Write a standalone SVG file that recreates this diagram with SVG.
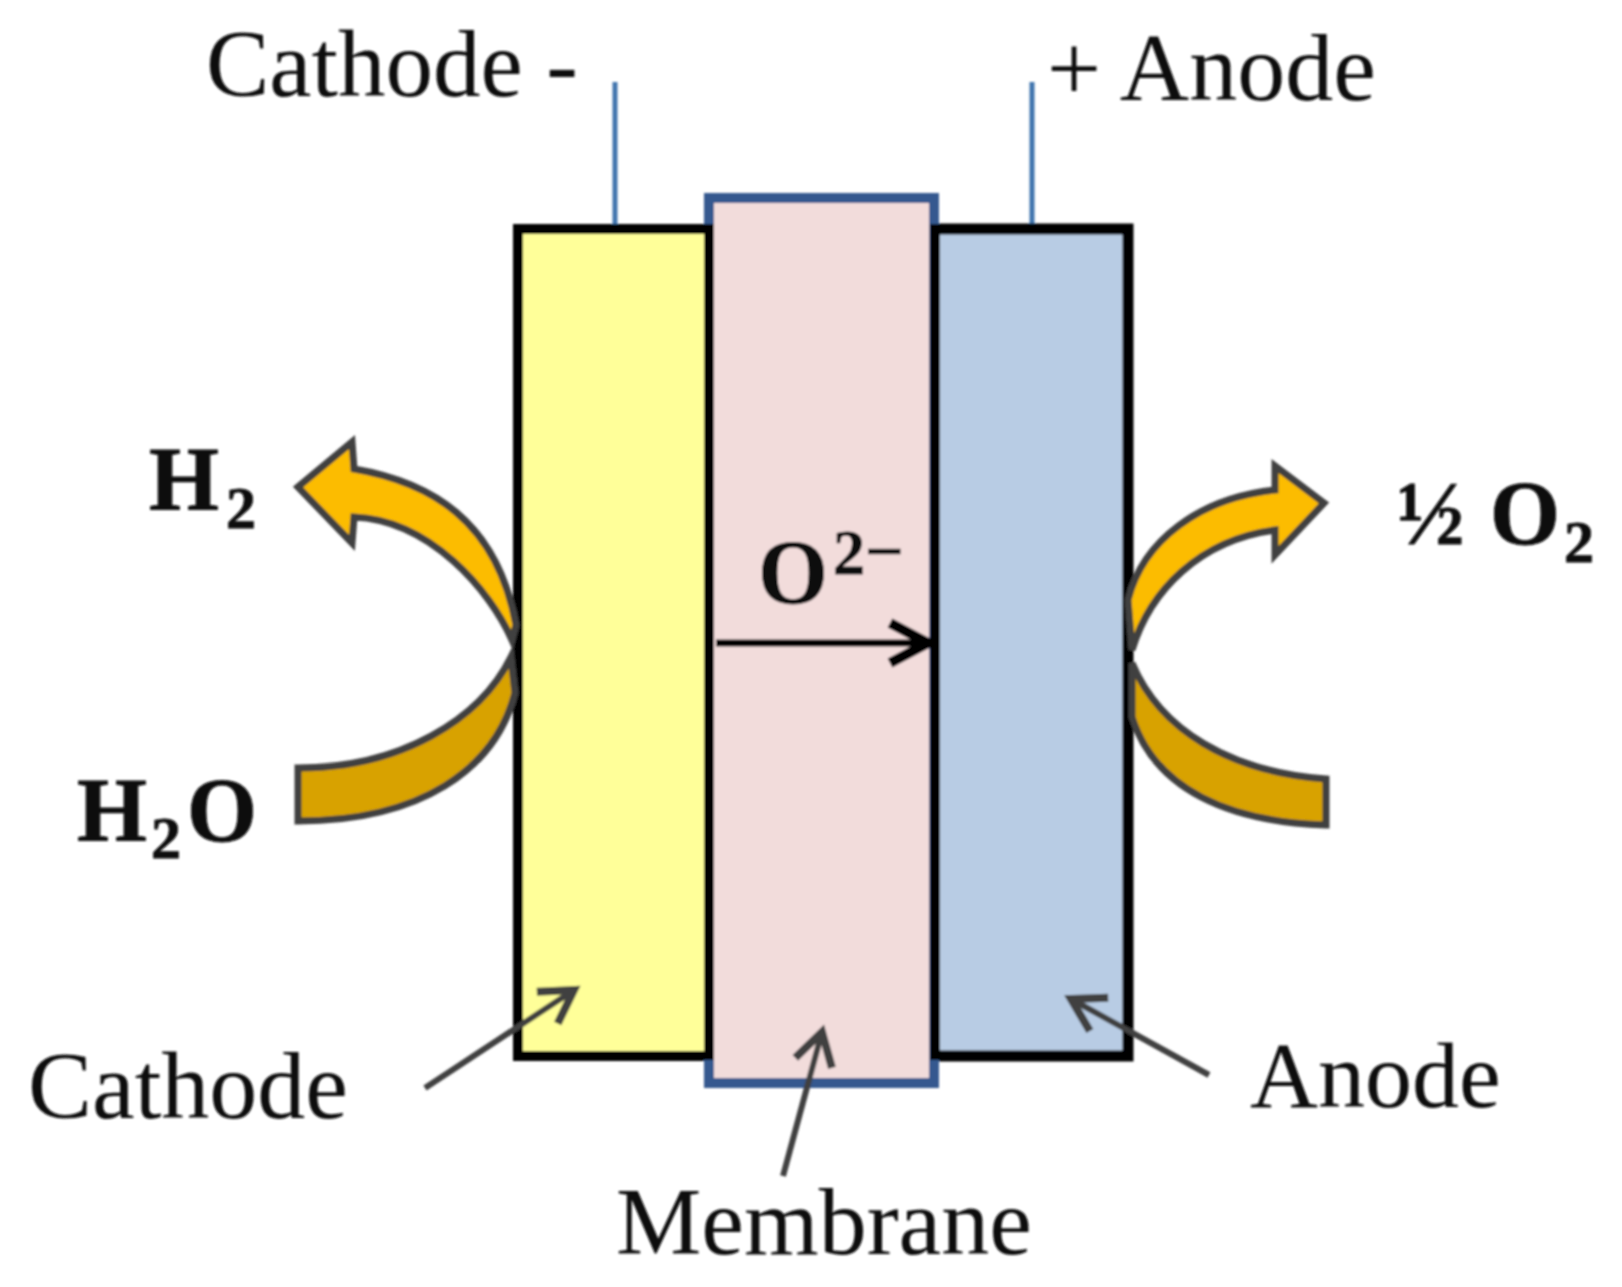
<svg xmlns="http://www.w3.org/2000/svg" width="1622" height="1287" viewBox="0 0 1622 1287">
<style>
.lbl{font-family:"Liberation Serif","Times New Roman",serif;font-size:96px;fill:#111}
.chem{font-family:"Liberation Serif","Times New Roman",serif;font-size:90px;font-weight:bold;fill:#0a0a0a;stroke:#0a0a0a;stroke-width:0.8}
.sub{font-size:60px}
.flow{stroke:#404040;stroke-width:7;stroke-linejoin:miter}
.up{fill:#fcbc05}
.down{fill:#d8a200}
.pointer{fill:none;stroke:#404040;stroke-width:6}
.wire{fill:none;stroke:#3f74ad;stroke-width:5}
</style>
<defs>
<marker id="open" markerUnits="userSpaceOnUse" markerWidth="50" markerHeight="60" refX="42" refY="30" orient="auto"><path d="M10,11 L42,30 L10,49" fill="none" stroke="#404040" stroke-width="8"/></marker>
<marker id="ion" markerUnits="userSpaceOnUse" markerWidth="60" markerHeight="70" refX="50" refY="35" orient="auto"><path d="M8,15 L46,35 L8,55" fill="none" stroke="#000" stroke-width="10"/></marker>
<filter id="soft" x="0" y="0" width="100%" height="100%"><feGaussianBlur stdDeviation="1.2"/></filter>
</defs>
<rect width="1622" height="1287" fill="#fff"/>
<g filter="url(#soft)">
<g id="connectors">
<line class="wire" x1="615" y1="82" x2="615" y2="230"/>
<line class="wire" x1="1032" y1="82" x2="1032" y2="230"/>
</g>
<g id="cathode"><rect x="518" y="229" width="197" height="827" fill="#ffff99" stroke="#000" stroke-width="10"/></g>
<g id="anode"><rect x="934" y="229" width="194" height="827" fill="#b8cce4" stroke="#000" stroke-width="11"/></g>
<g id="membrane">
<rect x="709" y="198" width="225" height="885" fill="#f2dcdb" stroke="#34588f" stroke-width="10"/>
<path d="M709,224 V1060 M935,224 V1060" fill="none" stroke="#000" stroke-width="10"/>
</g>
<g id="h2o-in"><path class="flow down" d="M298,768 C400,768 480,720 511,657 L515,693 C495,770 420,821 298,821 Z"/></g>
<g id="h2-out"><path class="flow up" d="M298,487 L352,442 L354,469 C430,482 497,520 516,625 L512,640 C490,590 430,520 354,517 L352,543 Z"/></g>
<g id="water-right"><path class="flow down" d="M1326,779 C1230,772 1160,730 1132,663 L1132,717 C1155,790 1230,822 1326,825 Z"/></g>
<g id="o2-out"><path class="flow up" d="M1324,503 L1275,466 L1275,490 C1200,498 1143,540 1128,600 L1132,650 C1150,590 1200,540 1275,530 L1275,555 Z"/></g>
<g id="pointers">
<line class="pointer" x1="425" y1="1088" x2="574" y2="990" marker-end="url(#open)"/>
<line class="pointer" x1="1209" y1="1075" x2="1071" y2="999" marker-end="url(#open)"/>
<line class="pointer" x1="783" y1="1176" x2="822" y2="1032" marker-end="url(#open)"/>
<line x1="716" y1="643" x2="932" y2="643" fill="none" stroke="#000" stroke-width="7" marker-end="url(#ion)"/>
</g>
<g id="labels">
<text class="lbl" x="206" y="96" style="font-size:95px">Cathode -</text>
<text class="lbl" x="1047" y="100">+ Anode</text>
<text class="lbl" x="28" y="1118">Cathode</text>
<text class="lbl" x="1250" y="1107" style="font-size:94px">Anode</text>
<text class="lbl" x="616" y="1254">Membrane</text>
<text class="chem" x="149" y="510">H<tspan class="sub" x="226" y="528">2</tspan></text>
<text class="chem" x="77" y="841">H<tspan class="sub" x="151" y="858">2</tspan><tspan x="187" y="841">O</tspan></text>
<text class="chem" x="1397" y="544">½<tspan x="1490">O</tspan><tspan class="sub" x="1564" y="562">2</tspan></text>
<text class="chem" x="758" y="603">O<tspan class="sub" x="833" y="574" style="font-size:64px">2</tspan><tspan class="sub" x="865" y="574" style="font-size:68px">−</tspan></text>
</g>
</g>
</svg>
